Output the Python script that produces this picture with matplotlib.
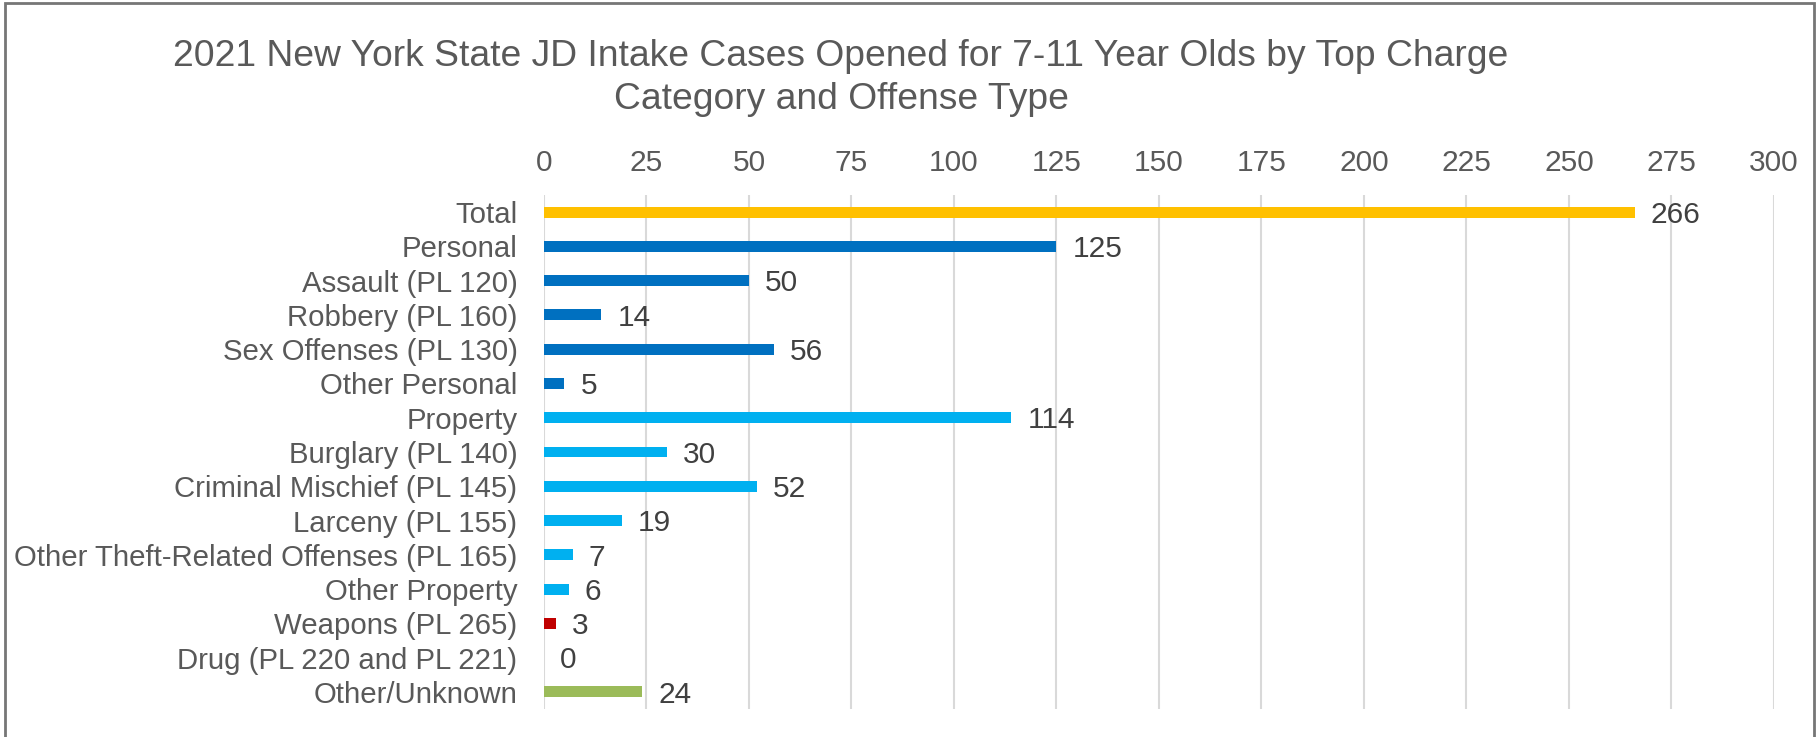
import matplotlib.pyplot as plt
from matplotlib.patches import Rectangle

# JD intake cases for 7-11 year olds, by top charge category
categories = ['Total', 'Personal', 'Assault (PL 120)', 'Robbery (PL 160)',
              'Sex Offenses (PL 130)', 'Other Personal', 'Property',
              'Burglary (PL 140)', 'Criminal Mischief (PL 145)', 'Larceny (PL 155)',
              'Other Theft-Related Offenses (PL 165)', 'Other Property',
              'Weapons (PL 265)', 'Drug (PL 220 and PL 221)', 'Other/Unknown']
cases = [266, 125, 50, 14, 56, 5, 114, 30, 52, 19, 7, 6, 3, 0, 24]
groups = ['total', 'personal', 'personal', 'personal', 'personal', 'personal',
          'property', 'property', 'property', 'property', 'property', 'property',
          'weapons', 'drug', 'other']
ticks = [0, 25, 50, 75, 100, 125, 150, 175, 200, 225, 250, 275, 300]

group_colors = {'total': '#FFC000', 'personal': '#0070C0', 'property': '#00B0F0',
                'weapons': '#C00000', 'drug': '#7F7F7F', 'other': '#9BBB59'}

plt.rcParams['font.family'] = ['Liberation Sans', 'DejaVu Sans']

fig = plt.figure(figsize=(18.18, 7.37), dpi=100)
fig.patch.set_facecolor('white')
ax = fig.add_axes([0.2992, 0.038, 0.6766, 0.6974])

ypos = list(range(len(categories)))
colors = [group_colors[g] for g in groups]
ax.barh(ypos, cases, height=0.32, color=colors, zorder=3)

for y, v in zip(ypos, cases):
    ax.text(v + 3.9, y + 0.08, str(v), va='center', ha='left', fontsize=21.5,
            color='#404040')

ax.set_ylim(len(categories) - 0.5, -0.5)
ax.set_yticks(ypos)
ax.set_yticklabels(categories, fontsize=21.2, color='#595959')
ax.set_xlim(0, 300)
ax.set_xticks(ticks)
ax.set_xticklabels([str(t) for t in ticks], fontsize=21.5, color='#595959')
ax.xaxis.tick_top()
ax.tick_params(axis='both', length=0)
ax.tick_params(axis='x', pad=13)
ax.tick_params(axis='y', pad=19)
ax.grid(axis='x', color='#D9D9D9', linewidth=1.5, zorder=0)
for s in ax.spines.values():
    s.set_visible(False)

fig.text(0.4626, 0.9235, '2021 New York State JD Intake Cases Opened for 7-11 Year Olds by Top Charge',
         ha='center', va='center', fontsize=26.8, color='#595959')
fig.text(0.4626, 0.865, 'Category and Offense Type',
         ha='center', va='center', fontsize=26.8, color='#595959')

fig.patches.append(Rectangle((5 / 1818, -0.05), 1809 / 1818, 1.046,
                             transform=fig.transFigure, fill=False,
                             edgecolor='#767676', linewidth=2))

fig.savefig('out.png', dpi=100, facecolor='white')
